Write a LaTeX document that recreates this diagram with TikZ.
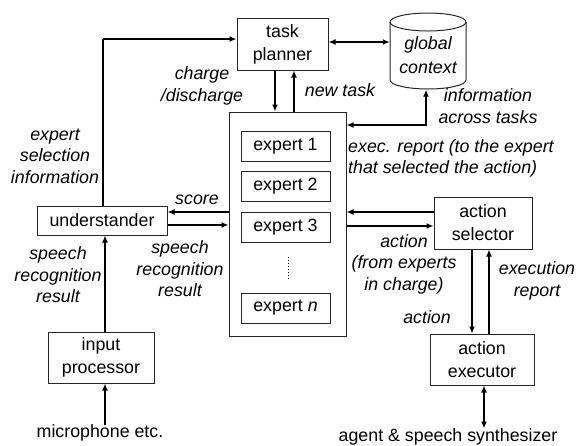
\documentclass[tikz,border=0pt]{standalone}
\usepackage{fontspec}
\setmainfont{Liberation Sans}
\usetikzlibrary{arrows.meta}
\begin{document}
\begin{tikzpicture}[x=1pt,y=-1pt,
  font=\fontsize{17.8}{21.5}\selectfont,
  box/.style={draw=black!85, line width=1pt, inner sep=0pt, align=center, font=\fontsize{17.8}{23}\selectfont},
  lab/.style={inner sep=0pt, align=center, font=\fontsize{17.8}{21.5}\selectfont\itshape},
  arr/.style={line width=2pt, -{Latex[length=7pt,width=6pt]}},
  darr/.style={line width=2pt, {Latex[length=7pt,width=6pt]}-{Latex[length=7pt,width=6pt]}},
  tarr/.style={line width=1.2pt, -{Latex[length=7pt,width=6pt]}},
  thinline/.style={line width=1.1pt}]
\useasboundingbox (0,0) rectangle (578,445);

% nodes
\node[box, minimum width=91pt, minimum height=52pt] (tp) at (282.5,44) {task\\planner};
\node[inner sep=0pt, minimum width=76pt, minimum height=76pt] (gc) at (428,51) {};
\draw[line width=1pt, draw=black!85] (390,22) -- (390,80) arc[start angle=180, end angle=360, x radius=38pt, y radius=9pt] -- (466,22);
\draw[line width=1pt, draw=black!85] (428,22) ellipse[x radius=38pt, y radius=9pt];
\node[lab, font=\fontsize{17.8}{23.5}\selectfont\itshape] (gct) at (428,55) {global\\context};

\node[box, minimum width=117pt, minimum height=224pt] (cont) at (287.5,224) {};
\node[box, minimum width=89pt, minimum height=30pt] (e1) at (285.5,146) {expert 1};
\node[box, minimum width=89pt, minimum height=30pt] (e2) at (285.5,186) {expert 2};
\node[box, minimum width=89pt, minimum height=30pt] (e3) at (285.5,227) {expert 3};
\node[box, minimum width=89pt, minimum height=30pt] (en) at (285.5,308) {expert \textit{n}};
\coordinate (d1) at (288,257);
\coordinate (d2) at (288,280);
\draw[line width=1pt, dotted] (d1) -- (d2);

\node[box, minimum width=130pt, minimum height=29pt] (und) at (102,220.5) {understander};
\node[box, minimum width=106pt, minimum height=51pt] (ip) at (101,357.5) {input\\processor};
\node[box, minimum width=98pt, minimum height=52pt] (as) at (483,223) {action\\selector};
\node[box, minimum width=104pt, minimum height=51pt] (ae) at (482,359.5) {action\\executor};
\node[inner sep=0pt] (mic) at (100,433) {microphone etc.};
\node[inner sep=0pt] (agent) at (448,437) {agent \& speech synthesizer};

% connectors
\draw[darr] (tp.east |- 0,42) -- (gc.west |- 0,42);
\draw[arr] (tp.south -| 275,0) -- (cont.north -| 275,0);
\draw[arr] (cont.north -| 294,0) -- (tp.south -| 294,0);
\draw[darr] (cont.east |- 0,125) -| ([yshift=-0.5pt]gc.south -| 426,0);
\draw[arr] (as.west |- 0,212) -- (cont.east |- 0,212);
\draw[arr] (cont.east |- 0,226) -- (as.west |- 0,226);
\draw[arr] (cont.west |- 0,212) -- (und.east |- 0,212);
\draw[arr] (und.east |- 0,225) -- (cont.west |- 0,225);
\coordinate (c1) at (103,39);
\draw[thinline] (und.north -| c1) -- (c1);
\draw[arr] (c1) -- (tp.west |- c1);
\draw[arr] (ip.north -| 105,0) -- (und.south -| 105,0);
\draw[arr] (mic.north -| 105,0) -- (ip.south -| 105,0);
\draw[tarr] (as.south -| 472,0) -- (ae.north -| 472,0);
\draw[arr] (ae.north -| 489,0) -- (as.south -| 489,0);
\draw[darr] (ae.south -| 484,0) -- (agent.north -| 484,0);

% labels
\node[lab] at (202,86) {charge\\/discharge};
\node[lab] at (340,90) {new task};
\node[lab] at (488,106) {information\\across tasks};
\node[lab, anchor=west, align=left] at (348,158.5) {exec. report (to the expert\\that selected the action)};
\node[lab] at (55,156) {expert\\selection\\information};
\node[lab] at (197,200) {score};
\node[lab] at (58,275) {speech\\recognition\\result};
\node[lab] at (180,269) {speech\\recognition\\result};
\node[lab] at (404,264) {action\\(from experts\\in charge)};
\node[lab] at (427,317) {action};
\node[lab] at (537,281) {execution\\report};
\end{tikzpicture}
\end{document}
